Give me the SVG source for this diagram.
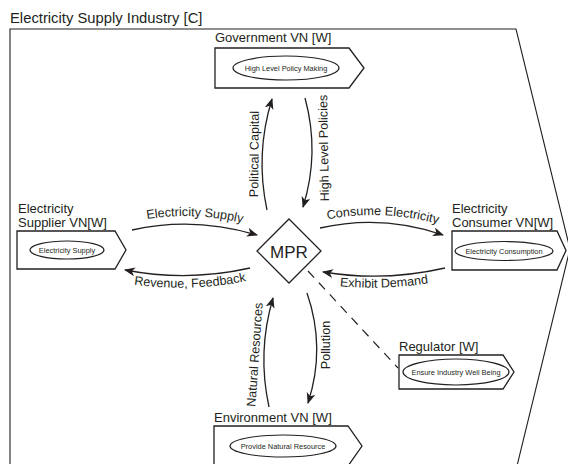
<svg xmlns="http://www.w3.org/2000/svg" xmlns:xlink="http://www.w3.org/1999/xlink" width="568" height="464" viewBox="0 0 568 464">
  <style>
    text { font-family: "Liberation Sans", Arial, sans-serif; fill: #231f20; }
    .title { font-size: 14.8px; }
    .label { font-size: 13px; }
    .role { font-size: 7.4px; text-anchor: middle; }
    .flow { font-size: 12.6px; }
    .box { fill: #fff; stroke: #231f20; stroke-width: 1.3; }
    .oval { fill: #fff; stroke: #231f20; stroke-width: 1.2; }
    .frame { fill: none; stroke: #231f20; stroke-width: 1.1; }
    .arrow { fill: none; stroke: #231f20; stroke-width: 1.3; marker-end: url(#head); }
    .dash { fill: none; stroke: #231f20; stroke-width: 1.2; stroke-dasharray: 9 7; }
  </style>
  <defs>
    <marker id="head" markerWidth="12" markerHeight="10" refX="10" refY="4.5" orient="auto" markerUnits="userSpaceOnUse">
      <path d="M0,0 L11,4.5 L0,9 L3,4.5 z" fill="#231f20"/>
    </marker>
    <!-- baselines for the flow labels -->
    <path id="tp-supply" d="M132,222 Q194,208 257,227"/>
    <path id="tp-revenue" d="M128,284 Q190,293 252,280"/>
    <path id="tp-consume" d="M320,221 Q382,207 445,226"/>
    <path id="tp-demand" d="M322,284 Q384,293 446,280"/>
    <path id="tp-political" d="M258,208 L259,100"/>
    <path id="tp-policies" d="M329,205 L327,91"/>
    <path id="tp-natural" d="M255,412 L263,298"/>
    <path id="tp-pollution" d="M330,385 L330,305"/>
  </defs>

  <rect width="568" height="464" fill="#fff"/>

  <!-- enclosing industry container -->
  <g id="industry">
    <polygon class="frame" points="10,470 10,29 516,29 570,249 516,470"/>
    <text class="title" x="10" y="23">Electricity Supply Industry [C]</text>
  </g>

  <!-- connectors -->
  <g id="connectors">
    <path class="arrow" d="M267,210 Q255,154 272,99"/>
    <path class="arrow" d="M305,98 Q320,153 303,207"/>
    <path class="arrow" d="M132,230 Q194,216 257,235"/>
    <path class="arrow" d="M250,268 Q188,282 125,270"/>
    <path class="arrow" d="M320,228 Q382,214 443,235"/>
    <path class="arrow" d="M445,268 Q384,282 323,272"/>
    <path class="arrow" d="M269,407 Q257,352 273,298"/>
    <path class="arrow" d="M307,293 Q326,348 308,403"/>
    <path class="dash" d="M308,271 L398,368"/>

    <text class="flow"><textPath xlink:href="#tp-supply" href="#tp-supply" startOffset="50%" text-anchor="middle">Electricity Supply</textPath></text>
    <text class="flow"><textPath xlink:href="#tp-revenue" href="#tp-revenue" startOffset="50%" text-anchor="middle">Revenue, Feedback</textPath></text>
    <text class="flow"><textPath xlink:href="#tp-consume" href="#tp-consume" startOffset="50%" text-anchor="middle">Consume Electricity</textPath></text>
    <text class="flow"><textPath xlink:href="#tp-demand" href="#tp-demand" startOffset="50%" text-anchor="middle">Exhibit Demand</textPath></text>
    <text class="flow"><textPath xlink:href="#tp-political" href="#tp-political" startOffset="50%" text-anchor="middle">Political Capital</textPath></text>
    <text class="flow"><textPath xlink:href="#tp-policies" href="#tp-policies" startOffset="50%" text-anchor="middle">High Level Policies</textPath></text>
    <text class="flow"><textPath xlink:href="#tp-natural" href="#tp-natural" startOffset="50%" text-anchor="middle">Natural Resources</textPath></text>
    <text class="flow"><textPath xlink:href="#tp-pollution" href="#tp-pollution" startOffset="50%" text-anchor="middle">Pollution</textPath></text>
  </g>

  <g id="government">
    <text class="label" x="215" y="42">Government VN [W]</text>
    <polygon class="box" points="215,48 349,48 364,68 349,88 215,88"/>
    <ellipse class="oval" cx="286" cy="68" rx="53" ry="12"/>
    <text class="role" x="286" y="70.5">High Level Policy Making</text>
  </g>

  <g id="supplier">
    <text class="label" x="18" y="213">Electricity</text>
    <text class="label" x="18" y="227">Supplier VN[W]</text>
    <polygon class="box" points="17,231 115,231 126,250 115,269 17,269"/>
    <ellipse class="oval" cx="67" cy="250" rx="37" ry="9"/>
    <text class="role" x="67" y="252.5">Electricity Supply</text>
  </g>

  <g id="mpr">
    <polygon class="box" points="289,219 321,251 289,283 257,251"/>
    <text x="289" y="258" font-size="17" text-anchor="middle">MPR</text>
  </g>

  <g id="consumer">
    <text class="label" x="452" y="213">Electricity</text>
    <text class="label" x="452" y="227">Consumer VN[W]</text>
    <polygon class="box" points="452,231 557,231 566,250.5 557,270 452,270"/>
    <ellipse class="oval" cx="504" cy="251" rx="49" ry="9.5"/>
    <text class="role" x="504" y="253.5">Electricity Consumption</text>
  </g>

  <g id="regulator">
    <text class="label" x="399" y="351">Regulator [W]</text>
    <polygon class="box" points="399,355 503,355 514,372 503,389 399,389"/>
    <ellipse class="oval" cx="456" cy="372" rx="53" ry="13"/>
    <text class="role" x="456" y="374.5">Ensure Industry Well Being</text>
  </g>

  <g id="environment">
    <text class="label" x="214" y="422">Environment VN [W]</text>
    <polygon class="box" points="214,426 348,426 362,446 348,466 214,466"/>
    <ellipse class="oval" cx="283" cy="446" rx="53" ry="11"/>
    <text class="role" x="283" y="448.5">Provide Natural Resource</text>
  </g>
</svg>
